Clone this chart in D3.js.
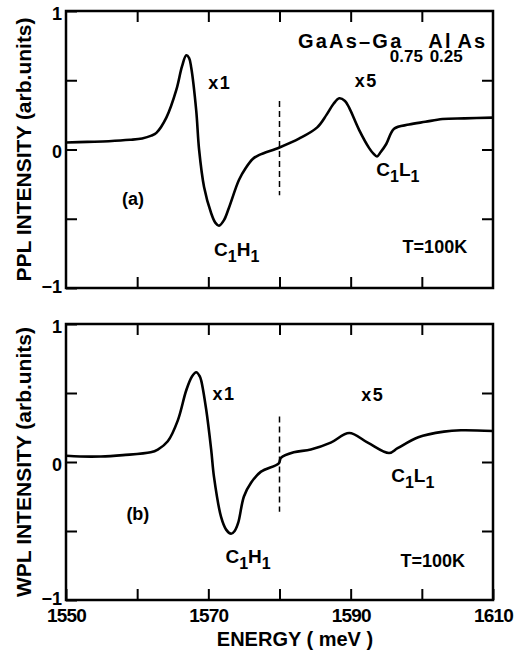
<!DOCTYPE html>
<html>
<head>
<meta charset="utf-8">
<script src="https://d3js.org/d3.v7.min.js"></script>
<style>
  body { margin: 0; background: #fff; }
  svg { display: block; }
  text { font-family: "Liberation Sans", Arial, sans-serif; font-weight: bold; fill: #000; }
</style>
</head>
<body>
<div id="chart"></div>
<script>
    // energy axis (meV)
    var xTicks = [1550, 1560, 1570, 1580, 1590, 1600, 1610];
    var xLabels = [1550, 1570, 1590, 1610];
    var yTicks = [-1, -0.5, 0, 0.5, 1];

    // (a) PPL spectrum
    var energyA = [1550, 1553, 1556, 1559, 1560.7, 1562, 1562.7, 1564.1, 1565.5, 1566.3, 1566.9, 1567.3,
        1567.6, 1568.3, 1568.7, 1569.4, 1570.4, 1571.0, 1571.5, 1572.2, 1572.9, 1574.3, 1575.3, 1576.2,
        1577.1, 1580, 1582.8, 1585.3, 1586.6, 1587.6, 1588.4, 1589.2, 1589.8, 1591.2, 1592.6, 1593.2,
        1593.7, 1594.2, 1595, 1596.1, 1598.2, 1600.5, 1602.9, 1606, 1610];
    var ppl = [0.05, 0.055, 0.06, 0.07, 0.08, 0.10, 0.12, 0.23, 0.43, 0.60, 0.68, 0.66,
        0.59, 0.28, 0.0, -0.27, -0.46, -0.53, -0.55, -0.51, -0.42, -0.22, -0.13, -0.07,
        -0.04, 0.015, 0.08, 0.16, 0.25, 0.33, 0.37, 0.35, 0.30, 0.14, 0.01, -0.03,
        -0.05, -0.02, 0.04, 0.15, 0.18, 0.20, 0.22, 0.225, 0.23];

    // (b) WPL spectrum
    var energyB = [1550, 1552, 1554.9, 1558, 1561.9, 1562.9, 1564.3, 1565.7, 1566.9, 1567.7, 1568.3, 1568.8,
        1569.0, 1569.7, 1570.4, 1570.8, 1571.8, 1572.5, 1573.2, 1573.7, 1574.2, 1575, 1576, 1577.4,
        1579.9, 1580.2, 1582, 1584.4, 1587.2, 1589.8, 1592.4, 1595.4, 1596.6, 1599.5, 1603.1, 1605.5, 1610];
    var wpl = [0.045, 0.04, 0.04, 0.05, 0.07, 0.09, 0.15, 0.30, 0.52, 0.62, 0.65, 0.62,
        0.59, 0.38, 0.09, -0.11, -0.40, -0.49, -0.52, -0.50, -0.44, -0.25, -0.15, -0.07,
        -0.01, 0.03, 0.07, 0.09, 0.14, 0.21, 0.14, 0.065, 0.10, 0.18, 0.22, 0.23, 0.225];

    // dashed marker at 1580 meV (top, bottom of the dash in each panel)
    var markerEnergy = 1580;
    var markerA = [0.35, -0.33];
    var markerB = [0.33, -0.36];

    var width = 516, height = 658;
    var svg = d3.select("#chart").append("svg")
        .attr("width", width)
        .attr("height", height);

    var x = d3.scaleLinear().domain([1550, 1610]).range([66, 493]);

    var panels = [
        {top: 11, bottom: 288, energy: energyA, values: ppl, marker: markerA, title: "PPL INTENSITY (arb.units)",
         notes: [
            {t: "x1", e: 1571.6, v: 0.44, anchor: "middle"},
            {t: "x5", e: 1592.2, v: 0.45, anchor: "middle"},
            {t: "(a)", e: 1559.4, v: -0.40, anchor: "middle"},
            {t: "T=100K", e: 1597.3, v: -0.75, anchor: "start"}
         ],
         subs: [
            {a: "C", b: "H", e: 1570.8, v: -0.77},
            {a: "C", b: "L", e: 1593.6, v: -0.19}
         ]},
        {top: 324, bottom: 600, energy: energyB, values: wpl, marker: markerB, title: "WPL INTENSITY (arb.units)",
         notes: [
            {t: "x1", e: 1572.2, v: 0.45, anchor: "middle"},
            {t: "x5", e: 1593.1, v: 0.44, anchor: "middle"},
            {t: "(b)", e: 1560.1, v: -0.42, anchor: "middle"},
            {t: "T=100K", e: 1597.0, v: -0.76, anchor: "start"}
         ],
         subs: [
            {a: "C", b: "H", e: 1572.4, v: -0.73},
            {a: "C", b: "L", e: 1595.7, v: -0.145}
         ]}
    ];

    panels.forEach(function (p, pi) {
        var y = d3.scaleLinear().domain([-1, 1]).range([p.bottom, p.top]);
        var g = svg.append("g");

        // frame
        g.append("rect")
            .attr("x", x.range()[0]).attr("y", p.top)
            .attr("width", x.range()[1] - x.range()[0])
            .attr("height", p.bottom - p.top)
            .attr("fill", "none").attr("stroke", "#000").attr("stroke-width", 2.5);

        // ticks, all pointing inwards
        var left = g.append("g").attr("transform", "translate(" + x.range()[0] + ",0)")
            .call(d3.axisLeft(y).tickValues(yTicks).tickSize(-11).tickPadding(4)
                .tickFormat(d => d === 0 ? "0" : d === 1 ? "1" : d === -1 ? "\u22121" : ""));
        g.append("g").attr("transform", "translate(" + x.range()[1] + ",0)")
            .call(d3.axisRight(y).tickValues([-0.5, 0, 0.5]).tickSize(-11).tickFormat(""));
        g.append("g").attr("transform", "translate(0," + p.top + ")")
            .call(d3.axisTop(x).tickValues(xTicks.slice(1, -1)).tickSize(-11).tickFormat(""));
        var bot = g.append("g").attr("transform", "translate(0," + p.bottom + ")")
            .call(d3.axisBottom(x).tickValues(pi === 1 ? xTicks : xTicks.slice(1, -1)).tickSize(-11).tickPadding(9)
                .tickFormat(d => pi === 1 && xLabels.indexOf(d) >= 0 ? d : ""));

        g.selectAll(".domain").remove();
        g.selectAll(".tick line").attr("stroke", "#000").attr("stroke-width", 2);
        left.selectAll("text").attr("font-size", 18).attr("font-family", null)
            .attr("dy", d => d === -1 ? "0.25em" : "0.45em");
        bot.selectAll("text").attr("font-size", 19).attr("font-family", null).attr("letter-spacing", -0.8);

        // y title
        g.append("text")
            .attr("transform", "translate(31," + (p.top + p.bottom) / 2 + ") rotate(-90)")
            .attr("text-anchor", "middle")
            .attr("font-size", 21)
            .text(p.title);

        // dashed marker
        g.append("line")
            .attr("x1", x(markerEnergy)).attr("x2", x(markerEnergy))
            .attr("y1", y(p.marker[0])).attr("y2", y(p.marker[1]))
            .attr("stroke", "#000").attr("stroke-width", 1.5)
            .attr("stroke-dasharray", "6,4");

        // spectrum
        var line = d3.line()
            .x(d => x(d[0]))
            .y(d => y(d[1]))
            .curve(d3.curveCatmullRom.alpha(0.5));
        g.append("path")
            .datum(d3.zip(p.energy, p.values))
            .attr("d", line)
            .attr("fill", "none").attr("stroke", "#000").attr("stroke-width", 2.6)
            .attr("stroke-linejoin", "round");

        // annotations
        g.selectAll(".note").data(p.notes).enter().append("text")
            .attr("x", d => x(d.e)).attr("y", d => y(d.v))
            .attr("text-anchor", d => d.anchor)
            .attr("font-size", 18)
            .attr("letter-spacing", d => d.t === "x1" || d.t === "x5" ? 1.5 : 0)
            .text(d => d.t);

        var s = g.selectAll(".sub").data(p.subs).enter().append("text")
            .attr("x", d => x(d.e)).attr("y", d => y(d.v))
            .attr("font-size", 19);
        s.append("tspan").text(d => d.a);
        s.append("tspan").attr("dy", 6).attr("font-size", 16).text("1");
        s.append("tspan").attr("dy", -6).text(d => d.b);
        s.append("tspan").attr("dy", 6).attr("font-size", 16).text("1");

        if (pi === 0) {
            var comp = [
                {t: "GaAs\u2013Ga", e: 1582.6, v: 0.73},
                {t: "Al", e: 1600.9, v: 0.73},
                {t: "As", e: 1605.0, v: 0.73}
            ];
            g.selectAll(".comp").data(comp).enter().append("text")
                .attr("x", d => x(d.e)).attr("y", d => y(d.v))
                .attr("font-size", 20).attr("letter-spacing", 2.2)
                .text(d => d.t);
            var frac = [
                {t: "0.75", e: 1595.5, v: 0.635},
                {t: "0.25", e: 1601.1, v: 0.635}
            ];
            g.selectAll(".frac").data(frac).enter().append("text")
                .attr("x", d => x(d.e)).attr("y", d => y(d.v))
                .attr("font-size", 17)
                .text(d => d.t);
        }
    });

    // x title
    svg.append("text")
        .attr("x", 295).attr("y", 646)
        .attr("text-anchor", "middle")
        .attr("font-size", 20)
        .text("ENERGY ( meV )");
</script>
</body>
</html>
